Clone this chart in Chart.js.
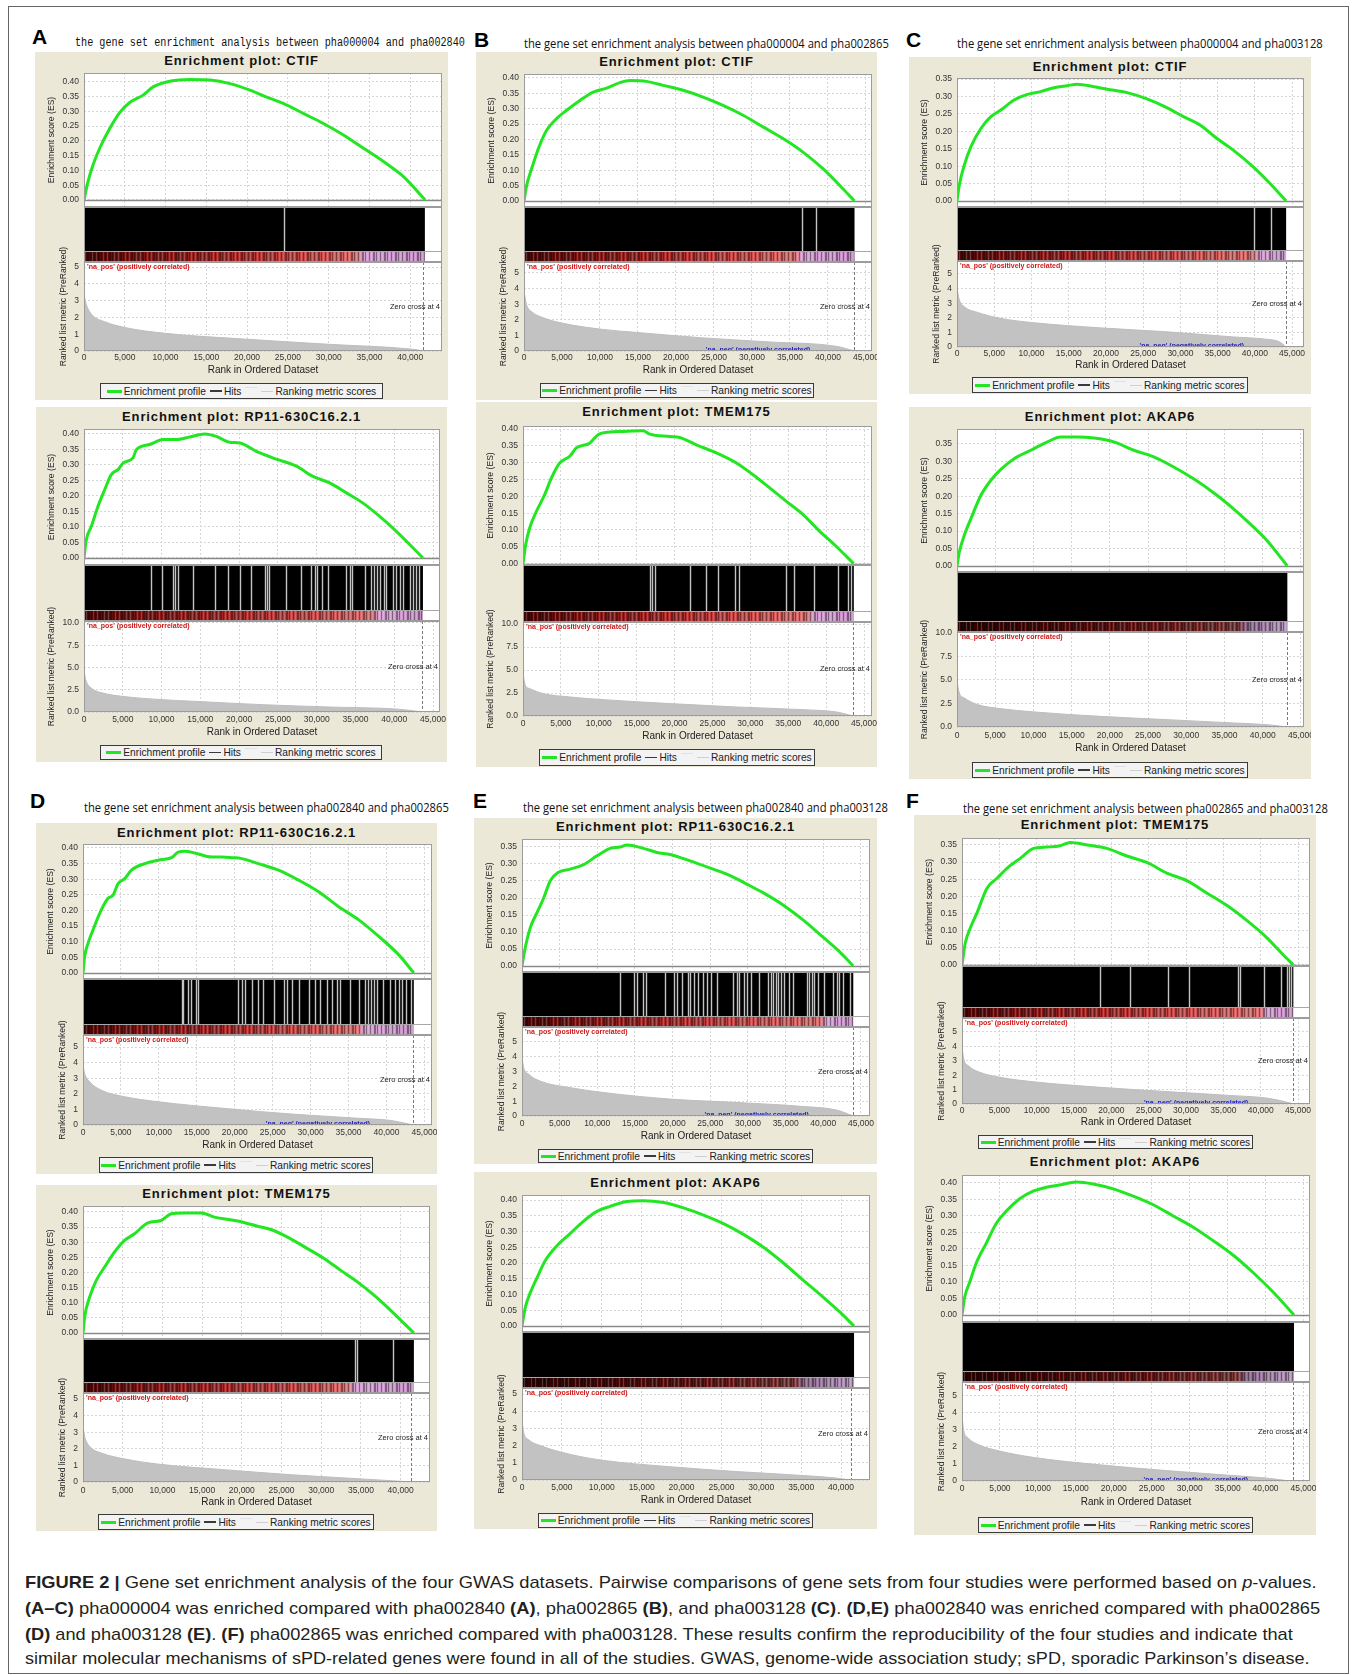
<!DOCTYPE html>
<html><head><meta charset="utf-8"><title>Figure 2 GSEA</title>
<script src="https://cdn.jsdelivr.net/npm/chart.js@4.4.1/dist/chart.umd.min.js"></script>
<style>
html,body{margin:0;padding:0;background:#fff;}
#page{position:relative;width:1357px;height:1675px;overflow:hidden;font-family:"Liberation Sans",Arial,sans-serif;background:#fff;}
.frame{position:absolute;left:8px;top:6px;width:1341px;height:1668px;border:1px solid #666;box-sizing:border-box;}
.box{position:absolute;background:#EBE8D8;}
.letter{position:absolute;font:bold 21px "Liberation Sans",Arial,sans-serif;line-height:1;color:#000;transform:translateY(-50%);}
.sub{position:absolute;white-space:nowrap;transform-origin:0 50%;color:#111;line-height:1;}
.ptitle{position:absolute;font:bold 13px "Liberation Sans",Arial,sans-serif;letter-spacing:0.9px;white-space:nowrap;transform:translate(-50%,-50%);color:#111;line-height:1;}
canvas.gc{position:absolute;}
.legend{position:absolute;box-sizing:border-box;border:1px solid #3a3a3a;background:#F3F3F3;display:flex;align-items:center;justify-content:center;font:10.2px "Liberation Sans",Arial,sans-serif;color:#222;white-space:nowrap;overflow:hidden;}
.sw{display:inline-block;margin:0 2px 0 2px;}
.cap{position:absolute;left:25px;white-space:nowrap;transform-origin:0 50%;font:17px "Liberation Sans",Arial,sans-serif;color:#231F20;line-height:1;}
</style></head>
<body><div id="page"><div class="frame"></div></div>
<script>
// ================= DATA =================
const plotIds = ['a1','a2','b1','b2','c1','c2','d1','d2','e1','e2','f1','f2'];
const geneNames = ['CTIF','RP11-630C16.2.1','CTIF','TMEM175','CTIF','AKAP6','RP11-630C16.2.1','TMEM175','RP11-630C16.2.1','AKAP6','TMEM175','AKAP6'];
const panelLetters = ['A','B','C','D','E','F'];
const panelTitles = [
  'the gene set enrichment analysis between pha000004 and pha002840',
  'the gene set enrichment analysis between pha000004 and pha002865',
  'the gene set enrichment analysis between pha000004 and pha003128',
  'the gene set enrichment analysis between pha002840 and pha002865',
  'the gene set enrichment analysis between pha002840 and pha003128',
  'the gene set enrichment analysis between pha002865 and pha003128'
];
const rankTicks = [0,5000,10000,15000,20000,25000,30000,35000,40000,45000];
const esTicks40 = [0,0.05,0.10,0.15,0.20,0.25,0.30,0.35,0.40];
const esTicks35 = [0,0.05,0.10,0.15,0.20,0.25,0.30,0.35];
const metTicks5 = [0,1,2,3,4,5];
const metTicks10 = [0,2.5,5,7.5,10];
const setSize       = [41800,43700,43500,43650,44200,43220,43600,41670,43980,41630,44370,43740];
const zeroCrossRank = [41600,43600,43450,43600,44200,43150,43550,41250,43900,41250,44300,43650];
const negLabelRank  = [null,null,30800,null,31530,null,30970,null,31160,null,31350,30800];

const a1EsRank=[0,491,1105,1924,3152,4380,5609,7246,8474,10521,12978,15434,17890,20346,22803,24440,26896,29353,31809,34266,36722,39178,41840];
const a1Es=[0,0.062,0.118,0.175,0.242,0.296,0.330,0.355,0.383,0.402,0.408,0.406,0.394,0.372,0.344,0.327,0.293,0.259,0.220,0.175,0.130,0.079,0];
const a1MetRank=[0,300,1000,2500,5000,10000,20000,30000,40000,41800];
const a1Met=[3.35,2.75,2.15,1.75,1.40,1.05,0.70,0.40,0.12,0];
const a1HitGaps=[24500];

const a2EsRank=[0,301,946,1805,2664,3524,4384,5029,6318,6748,8467,10186,11906,13625,15559,17063,18782,20072,22221,24799,27378,29527,31676,33825,35974,38123,40272,43711];
const a2Es=[0,0.059,0.102,0.167,0.220,0.269,0.285,0.306,0.323,0.349,0.366,0.382,0.382,0.390,0.400,0.392,0.373,0.371,0.344,0.319,0.296,0.263,0.242,0.210,0.177,0.134,0.086,0];
const a2MetRank=[0,301,946,2450,5029,10186,14484,23080,31676,40272,43700];
const a2Met=[4.53,3.42,2.68,2.12,1.75,1.38,1.19,0.82,0.56,0.33,0];
const a2HitGaps=[8682,10100,11476,11777,12163,14054,16848,18567,20072,21576,23295,23596,23854,26089,28023,29312,29742,30043,30731,31461,33739,34341,34556,36189,37049,37393,37822,38123,38639,38983,39842,40272,40788,41132,41991,42421,42851,43195];

const b1EsRank=[0,350,1008,1884,2979,4293,5608,7360,9113,10865,12617,13932,16122,18313,20942,23570,26199,28827,31456,34085,36713,39342,41971,43504];
const b1Es=[0,0.051,0.105,0.170,0.230,0.268,0.295,0.327,0.354,0.367,0.385,0.392,0.389,0.376,0.360,0.338,0.311,0.279,0.241,0.203,0.159,0.105,0.040,0];
const b1MetRank=[0,350,1008,2541,5170,10427,14808,23570,32332,41094,43500];
const b1Met=[3.81,2.95,2.52,2.13,1.77,1.38,1.19,0.84,0.58,0.30,0];
const b1HitGaps=[36580,38400];

const b2EsRank=[0,352,880,1760,2859,3739,4839,6159,7038,8798,9898,11437,13197,15836,16716,19355,20675,22874,25514,28153,30352,32551,34751,36950,39150,41349,43636];
const b2Es=[0,0.056,0.106,0.155,0.205,0.254,0.299,0.319,0.344,0.358,0.383,0.391,0.393,0.395,0.385,0.378,0.375,0.353,0.329,0.299,0.264,0.225,0.185,0.146,0.096,0.051,0];
const b2MetRank=[0,308,880,2639,6159,10558,19355,28153,36950,41349,43600];
const b2Met=[4.62,3.35,2.98,2.44,2.07,1.78,1.35,0.98,0.69,0.44,0];
const b2HitGaps=[16716,17068,17375,21994,24106,25733,27933,28505,34751,35762,38358,41569,42889,43240];

const c1EsRank=[0,312,981,1873,3210,4548,5886,7669,9453,11237,13021,14805,16142,18371,20155,22830,25506,28181,30411,32640,34870,37099,39775,42005,44200];
const c1Es=[0,0.046,0.103,0.156,0.208,0.242,0.261,0.290,0.306,0.314,0.325,0.331,0.335,0.328,0.321,0.311,0.293,0.268,0.242,0.218,0.180,0.146,0.098,0.051,0];
const c1MetRank=[0,312,981,2765,5886,10345,19263,28181,37099,41558,43342,44200];
const c1Met=[4.03,3.23,2.76,2.37,1.96,1.66,1.31,1.04,0.69,0.53,0.35,0];
const c1HitGaps=[39866,42230];

const c2EsRank=[0,304,957,1826,3131,4435,5739,7478,9652,11827,13566,15740,17914,20522,23131,25740,28349,30958,34001,36175,38349,40522,43218];
const c2Es=[0,0.040,0.088,0.136,0.203,0.246,0.277,0.308,0.332,0.356,0.370,0.370,0.367,0.356,0.332,0.313,0.284,0.250,0.203,0.164,0.121,0.074,0];
const c2MetRank=[0,304,957,2696,5739,10087,18783,27479,36175,40522,43200];
const c2Met=[4.86,3.62,3.09,2.38,1.95,1.60,1.13,0.78,0.43,0.25,0];
const c2HitGaps=[];

const d1EsRank=[0,220,661,1322,2203,3304,3965,4625,5506,6387,8149,9911,11673,12554,13436,14757,16959,18281,19602,20924,23126,25769,28412,31055,33698,36341,38984,41627,43600];
const d1Es=[0,0.053,0.095,0.138,0.191,0.239,0.249,0.286,0.302,0.329,0.350,0.361,0.369,0.387,0.390,0.384,0.371,0.371,0.369,0.366,0.350,0.329,0.297,0.260,0.212,0.170,0.117,0.058,0];
const d1MetRank=[0,220,881,2423,5506,9911,18721,27531,36341,40746,43500];
const d1Met=[3.83,3.30,2.77,2.23,1.81,1.49,1.06,0.70,0.43,0.28,0];
const d1HitGaps=[12995,13215,13876,14185,14845,15198,20485,21013,21366,22247,23128,23744,25110,26432,26872,27533,28414,29736,30617,31278,32159,32819,33480,33921,35242,36344,37225,37577,38018,38326,38767,39515,40529,41189,41630,42070,42511,43172];

const d2EsRank=[0,209,838,1675,2722,3979,5235,6491,8167,9842,11098,12773,14867,16543,19474,21987,23662,25756,28269,30363,32457,34551,36645,38739,41671];
const d2Es=[0,0.053,0.119,0.174,0.218,0.268,0.306,0.328,0.364,0.372,0.394,0.397,0.397,0.383,0.370,0.353,0.342,0.317,0.279,0.246,0.207,0.169,0.125,0.075,0];
const d2MetRank=[0,209,838,2303,5235,9423,17799,26175,34551,38739,41462];
const d2Met=[3.35,2.75,2.15,1.75,1.39,1.08,0.74,0.44,0.20,0.08,0];
const d2HitGaps=[34262,34555,39080];

const e1EsRank=[0,442,1105,1989,2873,3757,4862,6409,8177,9945,11713,13039,13923,16133,17901,19669,22321,24973,27625,29835,32045,34697,37349,40001,42211,43978];
const e1Es=[0,0.055,0.113,0.157,0.200,0.251,0.276,0.285,0.298,0.324,0.346,0.350,0.356,0.346,0.334,0.328,0.309,0.288,0.266,0.241,0.215,0.179,0.135,0.084,0.041,0];
const e1MetRank=[0,221,884,2431,6409,10829,19669,28509,37349,41769,43978];
const e1Met=[3.93,3.26,2.82,2.35,1.91,1.58,1.14,0.91,0.64,0.40,0];
const e1HitGaps=[13039,14895,15249,16045,16442,19006,20243,20553,21216,22011,22321,22851,23426,24089,24619,25106,25857,28067,28509,28862,29481,29835,30410,31515,32708,33017,33371,33725,34034,34388,34785,35493,36023,37791,38145,38454,38763,39338,40089,41327,41769,42123,42653,43537];

const e2EsRank=[0,418,1044,1879,2923,4384,6054,7724,9394,11064,13151,15239,17744,20249,22754,25259,27764,30269,32774,35279,37784,39871,41625];
const e2Es=[0,0.059,0.106,0.153,0.208,0.255,0.294,0.333,0.364,0.380,0.395,0.398,0.392,0.375,0.352,0.325,0.291,0.250,0.200,0.145,0.091,0.044,0];
const e2MetRank=[0,209,835,2296,6054,10229,18579,26929,35279,39454,41125];
const e2Met=[3.49,2.77,2.34,2.00,1.49,1.14,0.77,0.49,0.26,0.11,0];
const e2HitGaps=[];

const f1EsRank=[0,446,1115,2007,3344,4682,6020,7804,9587,11371,13155,14493,16722,19397,22073,24748,27424,30099,32775,35450,38125,40800,43030,44368];
const f1Es=[0,0.065,0.108,0.152,0.224,0.253,0.282,0.311,0.340,0.344,0.348,0.357,0.350,0.340,0.318,0.299,0.268,0.246,0.210,0.174,0.130,0.080,0.029,0];
const f1MetRank=[0,223,892,2452,5128,9587,18505,27424,36342,40800,43922,44370];
const f1Met=[4.00,3.15,2.64,2.19,1.85,1.54,1.16,0.86,0.58,0.41,0.07,0];
const f1HitGaps=[18416,22518,27557,30455,37010,37233,40443,42673,43475,43832,44010];

const f2EsRank=[0,352,1011,1890,3209,4528,5846,7605,9363,11122,12880,15078,17276,19914,22551,25189,27827,30464,33102,35739,38377,41014,43740];
const f2Es=[0,0.054,0.099,0.158,0.218,0.278,0.315,0.352,0.375,0.387,0.394,0.403,0.397,0.382,0.360,0.334,0.300,0.266,0.225,0.181,0.128,0.069,0];
const f2MetRank=[0,220,791,2330,4967,9363,18155,26947,35739,40135,43212];
const f2Met=[3.82,2.98,2.54,2.11,1.76,1.39,0.95,0.61,0.32,0.17,0];
const f2HitGaps=[];

const esRankSets=[a1EsRank,a2EsRank,b1EsRank,b2EsRank,c1EsRank,c2EsRank,d1EsRank,d2EsRank,e1EsRank,e2EsRank,f1EsRank,f2EsRank];
const esSets=[a1Es,a2Es,b1Es,b2Es,c1Es,c2Es,d1Es,d2Es,e1Es,e2Es,f1Es,f2Es];
const metRankSets=[a1MetRank,a2MetRank,b1MetRank,b2MetRank,c1MetRank,c2MetRank,d1MetRank,d2MetRank,e1MetRank,e2MetRank,f1MetRank,f2MetRank];
const metSets=[a1Met,a2Met,b1Met,b2Met,c1Met,c2Met,d1Met,d2Met,e1Met,e2Met,f1Met,f2Met];
const gapSets=[a1HitGaps,a2HitGaps,b1HitGaps,b2HitGaps,c1HitGaps,c2HitGaps,d1HitGaps,d2HitGaps,e1HitGaps,e2HitGaps,f1HitGaps,f2HitGaps];

// ================= LAYOUT (positions / axis ranges / styles) =================
const LAYOUT = {
 a1:{box:[35,52,448,400],titleY:60,plotL:84,plotR:442,esTop:73,esBot:207,hitsBot:262,metBot:351,esMin:-0.024,esMax:0.43,metMax:5.3,tickY:358,xTitleY:370,xMax:43900,legend:[100,383,383,399],band:'red',pink:0.82},
 a2:{box:[36,407,447,762],titleY:416,plotL:84,plotR:440,esTop:429,esBot:565,hitsBot:621,metBot:712,esMin:-0.0226,esMax:0.416,metMax:10.22,tickY:720,xTitleY:732,xMax:45900,legend:[100,382,745,760],band:'red',pink:0.87},
 b1:{box:[476,52,877,400],titleY:61,plotL:524,plotR:872,esTop:74,esBot:207,hitsBot:262,metBot:351,esMin:-0.0195,esMax:0.413,metMax:5.7,tickY:358,xTitleY:370,xMax:45800,legend:[540,814,383,398],band:'red',pink:0.84},
 b2:{box:[476,402,877,767],titleY:411,plotL:523,plotR:872,esTop:426,esBot:565,hitsBot:622,metBot:716,esMin:-0.004,esMax:0.409,metMax:10.22,tickY:724,xTitleY:736,xMax:46050,legend:[539,815,749,766],band:'red',pink:0.88},
 c1:{box:[909,57,1311,394],titleY:66,plotL:957,plotR:1304,esTop:78,esBot:207,hitsBot:261,metBot:347,esMin:-0.0172,esMax:0.353,metMax:5.89,tickY:354,xTitleY:365,xMax:46600,legend:[972,1248,377,393],band:'red',pink:0.92},
 c2:{box:[909,407,1311,779],titleY:416,plotL:957,plotR:1304,esTop:429,esBot:572,hitsBot:632,metBot:727,esMin:-0.0172,esMax:0.393,metMax:10.1,tickY:736,xTitleY:748,xMax:45400,legend:[972,1248,762,778],band:'dark',pink:0.88},
 d1:{box:[36,823,437,1174],titleY:832,plotL:83,plotR:432,esTop:844,esBot:979,hitsBot:1035,metBot:1125,esMin:-0.0192,esMax:0.4128,metMax:5.77,tickY:1133,xTitleY:1145,xMax:46000,legend:[99,373,1157,1173],band:'red',pink:0.85},
 d2:{box:[36,1185,437,1531],titleY:1193,plotL:83,plotR:430,esTop:1206,esBot:1339,hitsBot:1393,metBot:1482,esMin:-0.0198,esMax:0.4198,metMax:5.36,tickY:1491,xTitleY:1502,xMax:43700,legend:[98,374,1514,1530],band:'red',pink:0.82},
 e1:{box:[474,818,877,1164],titleY:826,plotL:522,plotR:870,esTop:839,esBot:972,hitsBot:1027,metBot:1116,esMin:-0.0176,esMax:0.3735,metMax:6.0,tickY:1124,xTitleY:1136,xMax:46200,legend:[538,813,1149,1163],band:'red',pink:0.92},
 e2:{box:[474,1172,877,1529],titleY:1182,plotL:522,plotR:870,esTop:1195,esBot:1332,hitsBot:1388,metBot:1480,esMin:-0.019,esMax:0.4159,metMax:5.35,tickY:1488,xTitleY:1500,xMax:43630,legend:[538,813,1513,1528],band:'dark',pink:0.85},
 f1:{box:[914,815,1316,1535],titleY:824,plotL:962,plotR:1310,esTop:838,esBot:966,hitsBot:1018,metBot:1104,esMin:-0.003,esMax:0.3704,metMax:5.97,tickY:1111,xTitleY:1122,xMax:46600,legend:[978,1253,1135,1149],band:'red',pink:0.92},
 f2:{box:null,parent:'f1',titleY:1161,plotL:962,plotR:1310,esTop:1175,esBot:1322,hitsBot:1382,metBot:1481,esMin:-0.0212,esMax:0.4242,metMax:5.82,tickY:1489,xTitleY:1502,xMax:45850,legend:[978,1253,1517,1533],band:'dark',pink:0.86}
};
const letterPos = [[32,36],[474,39],[906,39],[30,800],[473,800],[906,800]];
const subPos = [[75,465,43],[524,889,43],[957,1323,43],[84,449,807],[523,888,807],[963,1328,808]];

// ================= RENDER =================
const TF = '"Liberation Sans", Arial, sans-serif';
Chart.defaults.font.family = TF;
Chart.defaults.color = '#333';
const page = document.getElementById('page');

function textW(t, font) {
  const c = textW.c || (textW.c = document.createElement('canvas').getContext('2d'));
  c.font = font; return c.measureText(t).width;
}
function addEl(cls, html, styles) {
  const e = document.createElement('div'); e.className = cls; e.innerHTML = html;
  Object.assign(e.style, styles); page.appendChild(e); return e;
}
let stripe = null;
function stripePattern(ctx) {
  const c = document.createElement('canvas'); c.width = 11; c.height = 4;
  const g = c.getContext('2d');
  g.fillStyle = 'rgba(0,0,0,0.38)'; g.fillRect(0,0,1,4); g.fillRect(4,0,1,4); g.fillRect(8,0,2,4);
  g.fillStyle = 'rgba(255,255,255,0.18)'; g.fillRect(2,0,1,4); g.fillRect(6,0,1,4);
  return ctx.createPattern(c, 'repeat');
}
function bandGradient(ctx, x0, xN, kind, pink) {
  const g = ctx.createLinearGradient(x0, 0, xN, 0);
  if (kind === 'dark') {
    g.addColorStop(0, '#2a0303'); g.addColorStop(0.3, '#4a0a0a'); g.addColorStop(0.6, '#6a1a1a');
    g.addColorStop(pink - 0.03, '#7a3a3a'); g.addColorStop(pink, '#8e6a90'); g.addColorStop(1, '#b89ac0');
  } else {
    g.addColorStop(0, '#4a0606'); g.addColorStop(0.15, '#7a1414'); g.addColorStop(0.45, '#b02c2c');
    g.addColorStop(0.7, '#cf5050'); g.addColorStop(pink - 0.02, '#dc7070'); g.addColorStop(pink, '#d6a0d4'); g.addColorStop(1, '#c890c8');
  }
  return g;
}

const TICK_PX = 8.5, TITLE_PX = 8.6;
const tickFontStr = TICK_PX + 'px ' + TF;

plotIds.forEach((id, i) => {
  const L = LAYOUT[id];
  const B = L.box || LAYOUT[L.parent].box;
  if (L.box) addEl('box', '', {left:B[0]+'px', top:B[1]+'px', width:(B[2]-B[0])+'px', height:(B[3]-B[1])+'px'});
  addEl('ptitle', 'Enrichment plot: ' + geneNames[i], {left:((B[0]+B[2])/2)+'px', top:L.titleY+'px'});

  const cl = B[0], cr = B[2], ct = L.esTop - 12, cb = L.xTitleY + 9;
  const cv = document.createElement('canvas');
  cv.className = 'gc'; cv.width = cr - cl; cv.height = cb - ct;
  cv.style.left = cl + 'px'; cv.style.top = ct + 'px';
  cv.style.width = (cr - cl) + 'px'; cv.style.height = (cb - ct) + 'px';
  page.appendChild(cv);

  const yW = L.plotL - cl;
  const xAxisH = cb - L.metBot;
  const esTicks = L.esMax < 0.40 ? esTicks35 : esTicks40;
  const big = L.metMax > 7;
  const metTicks = big ? metTicks10 : metTicks5;
  const esLabW = Math.max(...esTicks.map(v => textW(v.toFixed(2), tickFontStr)));
  const metLabW = Math.max(...metTicks.map(v => textW(big ? v.toFixed(1) : v.toFixed(0), tickFontStr)));
  const esTitleX = L.plotL - 5 - esLabW - 6.5 - TITLE_PX/2 - cl;
  const metTitleX = L.plotL - 5 - metLabW - 6.5 - TITLE_PX/2 - cl;

  const N = setSize[i], gaps = gapSets[i], zc = zeroCrossRank[i], negX = negLabelRank[i];

  const plugin = {
    id: 'gsea' + i,
    beforeDraw(chart) {
      const {ctx, chartArea: ca} = chart;
      ctx.save(); ctx.fillStyle = '#fff';
      ctx.fillRect(ca.left, ca.top, ca.right - ca.left, ca.bottom - ca.top);
      ctx.restore();
    },
    beforeDatasetsDraw(chart) {
      const {ctx, chartArea: ca, scales} = chart;
      const x = scales.x, yH = scales.yH, yM = scales.yM, yE = scales.yE;
      const hT = yH.top, hB = yH.bottom, cT = hB - 11;
      const x0 = x.getPixelForValue(0), xN = x.getPixelForValue(N);
      ctx.save();
      ctx.fillStyle = '#fff'; ctx.fillRect(ca.left, hT, ca.right - ca.left, hB - hT);
      ctx.fillStyle = '#000'; ctx.fillRect(x0, hT + 1, xN - x0, cT - hT - 1);
      ctx.strokeStyle = '#c4c4c4'; ctx.lineWidth = 1.4;
      for (const g of gaps) {
        const px = Math.round(x.getPixelForValue(g)) + 0.5;
        ctx.beginPath(); ctx.moveTo(px, hT + 1); ctx.lineTo(px, cT); ctx.stroke();
      }
      ctx.fillStyle = bandGradient(ctx, x0, xN, L.band, L.pink);
      ctx.fillRect(x0, cT + 1, xN - x0, hB - cT - 2);
      if (!stripe) stripe = stripePattern(ctx);
      ctx.fillStyle = stripe; ctx.fillRect(x0, cT + 1, xN - x0, hB - cT - 2);
      ctx.strokeStyle = '#a8a8a8'; ctx.lineWidth = 1;
      const yy = Math.round(cT) + 0.5;
      ctx.beginPath(); ctx.moveTo(ca.left, yy); ctx.lineTo(ca.right, yy); ctx.stroke();
      // ES zero line
      const y0 = Math.round(yE.getPixelForValue(0)) + 0.5;
      ctx.strokeStyle = '#8a8a8a'; ctx.lineWidth = 1.5;
      ctx.beginPath(); ctx.moveTo(ca.left, y0); ctx.lineTo(ca.right, y0); ctx.stroke();
      // zero cross dashed line
      const zx = Math.round(x.getPixelForValue(zc)) + 0.5;
      ctx.setLineDash([3, 2]); ctx.strokeStyle = '#7a7a7a'; ctx.lineWidth = 1;
      ctx.beginPath(); ctx.moveTo(zx, yM.top); ctx.lineTo(zx, yM.bottom); ctx.stroke();
      ctx.restore();
    },
    afterDatasetsDraw(chart) {
      const {ctx, chartArea: ca, scales} = chart;
      const x = scales.x, yH = scales.yH, yM = scales.yM, yE = scales.yE;
      ctx.save();
      ctx.strokeStyle = '#9c9c9c'; ctx.lineWidth = 1;
      const w = Math.round(ca.right) - Math.round(ca.left);
      for (const s of [yE, yH, yM]) ctx.strokeRect(Math.round(ca.left) + 0.5, Math.round(s.top) + 0.5, w - 1, Math.round(s.bottom) - Math.round(s.top) - 1);
      // labels
      ctx.font = 'bold 7px ' + TF; ctx.fillStyle = '#d01818'; ctx.textBaseline = 'top'; ctx.textAlign = 'left';
      ctx.fillText("'na_pos' (positively correlated)", ca.left + 3, yM.top + 1.5);
      ctx.font = '7.5px ' + TF; ctx.fillStyle = '#222'; ctx.textAlign = 'right'; ctx.textBaseline = 'middle';
      ctx.fillText('Zero cross at 4', ca.right - 2, (yM.top + yM.bottom) / 2);
      if (negX !== null) {
        ctx.save();
        ctx.beginPath(); ctx.rect(ca.left, yM.top, ca.right - ca.left, yM.bottom - yM.top - 1); ctx.clip();
        ctx.font = 'bold 7px ' + TF; ctx.fillStyle = '#1c1cc4'; ctx.textAlign = 'center'; ctx.textBaseline = 'alphabetic';
        ctx.fillText("'na_neg' (negatively correlated)", x.getPixelForValue(negX), yM.bottom + 0.5);
        ctx.restore();
      }
      // y axis titles
      ctx.font = TITLE_PX + 'px ' + TF; ctx.fillStyle = '#222'; ctx.textAlign = 'center'; ctx.textBaseline = 'middle';
      ctx.save(); ctx.translate(esTitleX, (yE.top + yE.bottom) / 2); ctx.rotate(-Math.PI / 2);
      ctx.fillText('Enrichment score (ES)', 0, 0); ctx.restore();
      ctx.save(); ctx.translate(metTitleX, (yM.top + yM.bottom) / 2); ctx.rotate(-Math.PI / 2);
      ctx.fillText('Ranked list metric (PreRanked)', 0, 0); ctx.restore();
      ctx.restore();
    }
  };

  const gridC = '#d6d6d6';
  const yFit = s => { s.width = yW; s.paddingTop = 0; s.paddingBottom = 0; };
  new Chart(cv, {
    type: 'line',
    data: { datasets: [
      { label: 'Enrichment profile', data: esRankSets[i].map((r, k) => ({x: r, y: esSets[i][k]})),
        xAxisID: 'x', yAxisID: 'yE', borderColor: '#22E622', borderWidth: 3, pointRadius: 0,
        fill: false, cubicInterpolationMode: 'monotone' },
      { label: 'Ranking metric scores', data: metRankSets[i].map((r, k) => ({x: r, y: metSets[i][k]})),
        xAxisID: 'x', yAxisID: 'yM', borderColor: '#BEBEBE', backgroundColor: '#C2C2C2', borderWidth: 1,
        pointRadius: 0, fill: 'origin', cubicInterpolationMode: 'monotone' }
    ]},
    options: {
      responsive: false, animation: false, events: [],
      layout: { autoPadding: false, padding: { left: 0, right: cr - L.plotR, top: 12, bottom: 0 } },
      plugins: { legend: { display: false }, tooltip: { enabled: false } },
      scales: {
        x: { type: 'linear', position: 'bottom', bounds: 'data', min: 0, max: L.xMax,
             afterBuildTicks: s => { s.ticks = rankTicks.filter(v => v <= L.xMax).map(v => ({value: v})); },
             ticks: { autoSkip: false, maxRotation: 0, minRotation: 0, font: {size: TICK_PX}, color: '#333',
                      padding: L.tickY - L.metBot - 5, callback: v => Number(v).toLocaleString('en-US') },
             grid: { color: gridC, drawTicks: false }, border: { display: false, dash: [2, 2] },
             title: { display: true, text: 'Rank in Ordered Dataset', font: {size: 10}, color: '#222', padding: {top: 0, bottom: 3} },
             afterFit: s => { s.height = xAxisH; s.paddingLeft = 0; s.paddingRight = 0; } },
        yM: { type: 'linear', position: 'left', stack: 'g', stackWeight: L.metBot - L.hitsBot, weight: 1,
              bounds: 'data', min: 0, max: L.metMax,
              afterBuildTicks: s => { s.ticks = metTicks.map(v => ({value: v})); },
              ticks: { autoSkip: false, font: {size: TICK_PX}, color: '#333', padding: 5,
                       callback: v => big ? Number(v).toFixed(1) : Number(v).toFixed(0) },
              grid: { color: gridC, drawTicks: false }, border: { display: false, dash: [2, 2] },
              afterFit: yFit },
        yH: { type: 'linear', position: 'left', stack: 'g', stackWeight: L.hitsBot - L.esBot, weight: 2,
              bounds: 'data', min: 0, max: 1,
              ticks: { display: false }, grid: { display: false }, border: { display: false },
              afterFit: yFit },
        yE: { type: 'linear', position: 'left', stack: 'g', stackWeight: L.esBot - L.esTop, weight: 3,
              bounds: 'data', min: L.esMin, max: L.esMax,
              afterBuildTicks: s => { s.ticks = esTicks.map(v => ({value: v})); },
              ticks: { autoSkip: false, font: {size: TICK_PX}, color: '#333', padding: 5,
                       callback: v => Number(v).toFixed(2) },
              grid: { color: gridC, drawTicks: false }, border: { display: false, dash: [2, 2] },
              afterFit: yFit }
      }
    },
    plugins: [plugin]
  });

  // legend
  const lg = L.legend;
  addEl('legend',
    '<span class="sw" style="width:15px;height:3px;background:#22E622;margin-left:0"></span><span>Enrichment profile</span>' +
    '<span class="sw" style="width:12px;height:1.5px;background:#3a3a3a;margin-left:4px"></span><span>Hits</span>' +
    '<span class="sw" style="width:12px;height:1px;background:#e2e2e2;margin-left:4px;position:relative;top:-4px"></span>' +
    '<span class="sw" style="width:12px;height:1px;background:#cfcfcf;margin-left:2px"></span><span>Ranking metric scores</span>',
    {left: lg[0]+'px', top: lg[2]+'px', width: (lg[1]-lg[0])+'px', height: (lg[3]-lg[2])+'px'});
});

// panel letters + subtitles
panelLetters.forEach((l, k) => {
  addEl('letter', l, {left: letterPos[k][0]+'px', top: letterPos[k][1]+'px'});
  const sp = subPos[k];
  const font = k === 0 ? '12px "Liberation Mono", "DejaVu Sans Mono", monospace' : '13px "Open Sans", "Liberation Sans", sans-serif';
  const s = addEl('sub', panelTitles[k], {left: sp[0]+'px', top: sp[2]+'px', font: font});
  const w = s.offsetWidth;
  s.style.transform = 'translateY(-50%) scaleX(' + ((sp[1]-sp[0]) / w) + ')';
});

// caption
const capLines = [
  ['<b>FIGURE 2 |</b> Gene set enrichment analysis of the four GWAS datasets. Pairwise comparisons of gene sets from four studies were performed based on <i>p</i>-values.', 1582, 1291],
  ['<b>(A–C)</b> pha000004 was enriched compared with pha002840 <b>(A)</b>, pha002865 <b>(B)</b>, and pha003128 <b>(C)</b>. <b>(D,E)</b> pha002840 was enriched compared with pha002865', 1608, 1295],
  ['<b>(D)</b> and pha003128 <b>(E)</b>. <b>(F)</b> pha002865 was enriched compared with pha003128. These results confirm the reproducibility of the four studies and indicate that', 1634, 1268],
  ['similar molecular mechanisms of sPD-related genes were found in all of the studies. GWAS, genome-wide association study; sPD, sporadic Parkinson’s disease.', 1658, 1284]
];
capLines.forEach(c => {
  const e = addEl('cap', c[0], {top: c[1]+'px'});
  const w = e.offsetWidth;
  e.style.transform = 'translateY(-50%) scaleX(' + (c[2] / w) + ')';
});
</script>
</body></html>
